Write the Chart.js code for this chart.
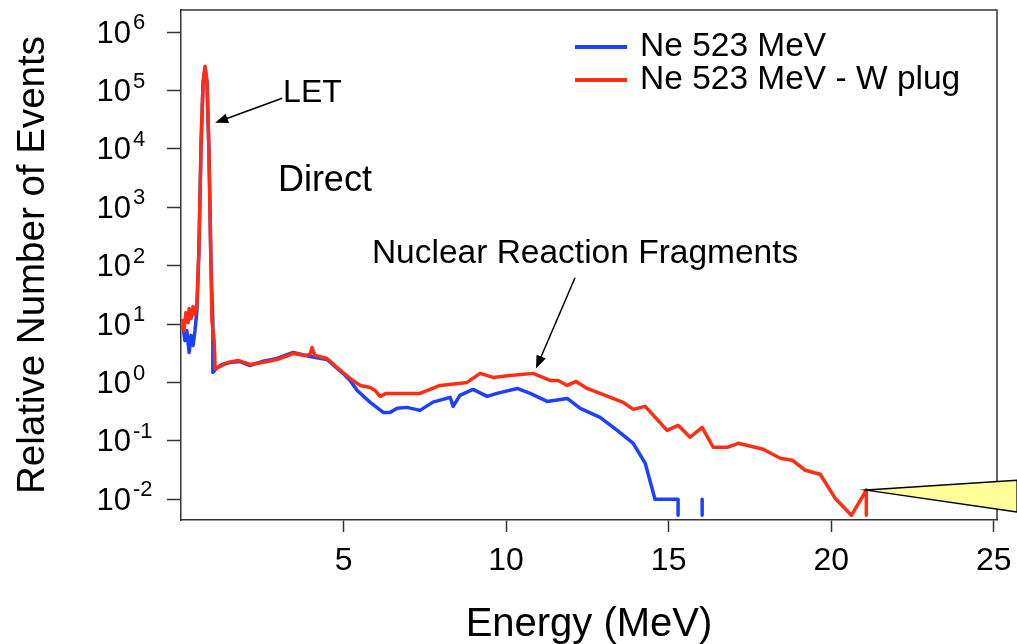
<!DOCTYPE html>
<html>
<head>
<meta charset="utf-8">
<script src="https://cdn.jsdelivr.net/npm/chart.js@4.4.1/dist/chart.umd.min.js"></script>
<style>
  html, body { margin: 0; padding: 0; background: #fff; }
</style>
</head>
<body>
<canvas id="spectrumChart" width="1017" height="644"></canvas>
<script>
// Energy spectrum, Ne 523 MeV with and without W plug

const xTicks = [5, 10, 15, 20, 25];
const yTickExps = [-2, -1, 0, 1, 2, 3, 4, 5, 6];
const seriesLabels = ['Ne 523 MeV', 'Ne 523 MeV - W plug'];

// Ne 523 MeV (blue)
const blueEnergy = [0.06, 0.12, 0.18, 0.25, 0.31, 0.37, 0.43, 0.49, 0.55, 0.62, 0.68, 0.74, 0.80, 0.86, 0.92, 0.98,
  0.98, 1.08, 1.26, 1.51, 1.82, 2.12, 2.49, 2.95, 3.45, 3.97, 4.49, 4.98, 5.20, 5.42, 5.82, 6.22, 6.43, 6.65, 6.95,
  7.35, 7.75, 8.28, 8.37, 8.58, 8.98, 9.42, 9.72, 10.34, 10.74, 11.26, 11.88, 12.28, 12.89, 13.42, 13.91, 14.28,
  14.58, 15.29, 15.29, 15.66, 16.03, 16.03];
const blueCounts = [9.4, 5.2, 7.7, 3.26, 6.4, 4.3, 7.7, 17.0, 180, 13700, 134000, 243000, 134000, 9250, 112, 10.6,
  1.48, 1.73, 2.03, 2.20, 2.28, 1.95, 2.28, 2.57, 3.26, 2.78, 2.47, 1.43, 1.08, 0.730, 0.455, 0.307, 0.307, 0.360, 0.374,
  0.332, 0.46, 0.555, 0.389, 0.600, 0.759, 0.577, 0.649, 0.789, 0.649, 0.473, 0.532, 0.360, 0.252, 0.151, 0.0906, 0.0412,
  0.01, 0.01, 0.0053, null, 0.01, 0.0053];

// Ne 523 MeV - W plug (red)
const redEnergy = [0.06, 0.09, 0.15, 0.22, 0.25, 0.31, 0.37, 0.43, 0.49, 0.55, 0.62, 0.68, 0.74, 0.80, 0.86, 0.92, 0.95,
  1.02, 1.05, 1.20, 1.45, 1.75, 2.12, 2.49, 2.95, 3.45, 3.82, 3.97, 4.03, 4.12, 4.49, 4.98, 5.20, 5.51, 5.82, 5.97, 6.12,
  6.31, 6.74, 7.35, 7.97, 8.80, 9.20, 9.60, 10.12, 10.83, 11.35, 11.60, 11.88, 12.15, 12.49, 12.89, 13.60, 13.91, 14.28,
  14.95, 15.29, 15.66, 16.03, 16.37, 16.80, 17.14, 17.91, 18.43, 18.80, 19.20, 19.66, 20.12, 20.62, 21.08, 21.08];
const redCounts = [12.4, 7.7, 15.7, 10.6, 18.4, 12.4, 19.9, 14.5, 22.4, 180, 13700, 145000, 262000, 145000, 9250, 122, 11.5,
  5.2, 1.73, 1.88, 2.20, 2.38, 2.03, 2.20, 2.47, 3.13, 2.89, 3.01, 3.96, 2.89, 2.57, 1.48, 1.17, 0.889, 0.822, 0.730, 0.577,
  0.649, 0.649, 0.649, 0.889, 1.0, 1.43, 1.22, 1.32, 1.43, 1.08, 1.08, 0.889, 1.04, 0.789, 0.649, 0.455, 0.345, 0.389,
  0.151, 0.184, 0.115, 0.170, 0.0775, 0.0775, 0.0906, 0.0716, 0.0502, 0.0465, 0.0313, 0.0267, 0.0104, 0.0053, 0.0143, 0.0053];

// annotation anchors, in data units
const letLabel = { text: 'LET', x: 3.14, y: 9.1e4 };
const letArrow = { from: [3.11, 7.4e4], to: [1.05, 2.8e4] };
const directLabel = { text: 'Direct', x: 2.98, y: 2840 };
const nuclearLabel = { text: 'Nuclear Reaction Fragments', x: 12.43, y: 160 };
const nuclearArrow = { from: [12.12, 62], to: [10.92, 1.73] };
const callout = { tip: [21.08, 0.0143], top: [25.72, 0.0211], bottom: [25.72, 0.006] };

const FONT = '"Liberation Sans", Arial, sans-serif';
const BLUE = '#1e40ff';
const RED = '#ff2d14';
const AXIS = '#333';

function toPoints(energy, counts) {
    return energy.map((e, i) => ({ x: e, y: counts[i] }));
}

function drawArrow(ctx, x1, y1, x2, y2) {
    const ang = Math.atan2(y2 - y1, x2 - x1);
    const head = 13, half = 5;
    ctx.beginPath();
    ctx.moveTo(x1, y1);
    ctx.lineTo(x2 - Math.cos(ang) * head * 0.8, y2 - Math.sin(ang) * head * 0.8);
    ctx.stroke();
    ctx.beginPath();
    ctx.moveTo(x2, y2);
    ctx.lineTo(x2 - Math.cos(ang) * head - Math.sin(ang) * half, y2 - Math.sin(ang) * head + Math.cos(ang) * half);
    ctx.lineTo(x2 - Math.cos(ang) * head + Math.sin(ang) * half, y2 - Math.sin(ang) * head - Math.cos(ang) * half);
    ctx.closePath();
    ctx.fill();
}

const decorPlugin = {
    id: 'decor',
    afterDraw(chart) {
        const { ctx, chartArea: a, scales: { x, y } } = chart;
        const px = v => x.getPixelForValue(v);
        const py = v => y.getPixelForValue(v);
        ctx.save();

        // frame (top and right sides)
        ctx.strokeStyle = AXIS;
        ctx.lineWidth = 1.5;
        ctx.beginPath();
        ctx.moveTo(a.left, a.top);
        ctx.lineTo(a.right, a.top);
        ctx.lineTo(a.right, a.bottom);
        ctx.stroke();

        // y tick labels as 10^n
        ctx.fillStyle = '#000';
        ctx.textBaseline = 'middle';
        yTickExps.forEach(e => {
            const ty = py(Math.pow(10, e));
            ctx.font = '31px ' + FONT;
            ctx.textAlign = 'right';
            ctx.fillText('10', a.left - 50, ty + 2);
            ctx.font = '22px ' + FONT;
            ctx.textAlign = 'left';
            ctx.fillText(String(e), a.left - 48, ty - 9);
        });

        // legend
        ctx.lineWidth = 4;
        [BLUE, RED].forEach((c, i) => {
            const ly = a.top + 37 + i * 33;
            ctx.strokeStyle = c;
            ctx.beginPath();
            ctx.moveTo(a.left + 394, ly);
            ctx.lineTo(a.left + 446, ly);
            ctx.stroke();
            ctx.font = '33.5px ' + FONT;
            ctx.textAlign = 'left';
            ctx.fillText(seriesLabels[i], a.left + 459, ly);
        });

        // text annotations
        ctx.font = '32px ' + FONT;
        ctx.fillText(letLabel.text, px(letLabel.x), py(letLabel.y));
        ctx.font = '36px ' + FONT;
        ctx.fillText(directLabel.text, px(directLabel.x), py(directLabel.y));
        ctx.font = '33.5px ' + FONT;
        ctx.textAlign = 'center';
        ctx.fillText(nuclearLabel.text, px(nuclearLabel.x), py(nuclearLabel.y));

        // arrows
        ctx.strokeStyle = '#000';
        ctx.fillStyle = '#000';
        ctx.lineWidth = 1.5;
        drawArrow(ctx, px(letArrow.from[0]), py(letArrow.from[1]), px(letArrow.to[0]), py(letArrow.to[1]));
        drawArrow(ctx, px(nuclearArrow.from[0]), py(nuclearArrow.from[1]), px(nuclearArrow.to[0]), py(nuclearArrow.to[1]));

        // yellow callout pointing at the last red point
        ctx.beginPath();
        ctx.moveTo(px(callout.tip[0]), py(callout.tip[1]));
        ctx.lineTo(px(callout.top[0]), py(callout.top[1]));
        ctx.lineTo(px(callout.bottom[0]), py(callout.bottom[1]));
        ctx.closePath();
        ctx.fillStyle = '#ffff99';
        ctx.fill();
        ctx.lineWidth = 1.5;
        ctx.stroke();

        ctx.restore();
    }
};

const ctx = document.getElementById('spectrumChart').getContext('2d');

new Chart(ctx, {
    type: 'line',
    data: {
        datasets: [{
            label: seriesLabels[0],
            data: toPoints(blueEnergy, blueCounts),
            borderColor: BLUE,
            order: 2
        }, {
            label: seriesLabels[1],
            data: toPoints(redEnergy, redCounts),
            borderColor: RED,
            order: 1
        }]
    },
    options: {
        responsive: false,
        animation: false,
        spanGaps: false,
        layout: { padding: { top: 10, right: 20, left: 0, bottom: 0 } },
        elements: {
            point: { radius: 0 },
            line: { tension: 0, borderWidth: 3.5, fill: false, borderJoinStyle: 'round', borderCapStyle: 'butt' }
        },
        plugins: {
            legend: { display: false },
            tooltip: { enabled: false }
        },
        scales: {
            x: {
                type: 'linear',
                min: 0,
                max: 25.1,
                afterBuildTicks: s => { s.ticks = xTicks.map(v => ({ value: v })); },
                afterFit: s => { s.height = 124; s.paddingLeft = 0; s.paddingRight = 0; },
                grid: { drawOnChartArea: false, color: AXIS, tickLength: 12, tickWidth: 1.5 },
                border: { color: AXIS, width: 1.5 },
                ticks: {
                    font: { family: FONT, size: 32 },
                    color: '#000',
                    padding: 10,
                    maxRotation: 0
                },
                title: {
                    display: true,
                    text: 'Energy (MeV)',
                    font: { family: FONT, size: 40, lineHeight: 1 },
                    color: '#000',
                    padding: { top: 0, bottom: -1 }
                }
            },
            y: {
                type: 'logarithmic',
                min: 0.0044,
                max: 2.4e6,
                afterBuildTicks: s => { s.ticks = yTickExps.map(e => ({ value: Math.pow(10, e) })); },
                afterFit: s => { s.width = 181; s.paddingTop = 0; s.paddingBottom = 0; },
                grid: { drawOnChartArea: false, color: AXIS, tickLength: 14, tickWidth: 1.5 },
                border: { color: AXIS, width: 1.5 },
                ticks: { display: false },
                title: {
                    display: true,
                    text: 'Relative Number of Events',
                    font: { family: FONT, size: 38.5, lineHeight: 1 },
                    color: '#000',
                    padding: { top: 14, bottom: 0 }
                }
            }
        }
    },
    plugins: [decorPlugin]
});
</script>
</body>
</html>
